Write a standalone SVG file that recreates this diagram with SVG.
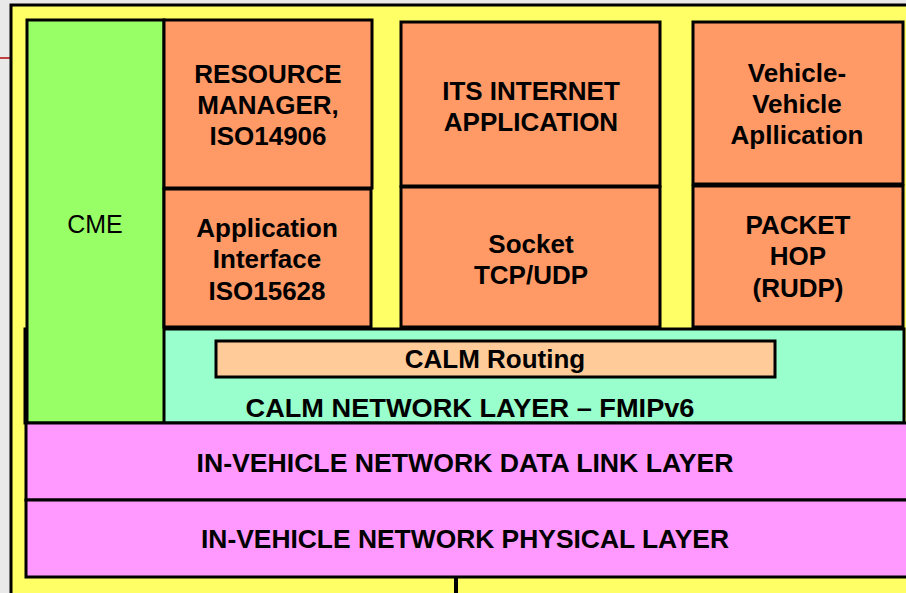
<svg xmlns="http://www.w3.org/2000/svg" width="906" height="593" viewBox="0 0 906 593">
<style>
.b{stroke:#000;stroke-width:3}
.o{fill:#ff9966}
.t{font-family:"Liberation Sans",Arial,sans-serif;font-weight:bold;font-size:26px;text-anchor:middle;fill:#000}
.n{font-family:"Liberation Sans",Arial,sans-serif;font-size:25px;text-anchor:middle;fill:#000}
</style>
<rect x="0" y="0" width="906" height="593" fill="#e9e9ea"/>
<line x1="0" y1="58" x2="12" y2="58" stroke="#c04040" stroke-width="2"/>
<g id="outer"><rect x="11" y="5" width="900" height="595" fill="#ffff66" class="b"/></g>
<g id="network"><rect x="25" y="329" width="879" height="94" fill="#99ffcc" class="b"/>
<text class="t" x="470" y="417" textLength="449" lengthAdjust="spacingAndGlyphs">CALM NETWORK LAYER – FMIPv6</text></g>
<g id="cme"><rect x="27" y="20" width="137" height="403" fill="#99ff66" class="b"/>
<text class="n" x="95" y="233">CME</text></g>
<g id="resource"><rect x="164" y="20" width="208" height="168" class="o b"/>
<text class="t"><tspan x="268" y="83">RESOURCE</tspan><tspan x="268" y="114">MANAGER,</tspan><tspan x="268" y="145">ISO14906</tspan></text></g>
<g id="appif"><rect x="164" y="189" width="207" height="138" class="o b"/>
<text class="t"><tspan x="267" y="237">Application</tspan><tspan x="267" y="268">Interface</tspan><tspan x="267" y="300">ISO15628</tspan></text></g>
<g id="its"><rect x="401" y="22" width="259" height="164" class="o b"/>
<text class="t"><tspan x="531" y="100">ITS INTERNET</tspan><tspan x="531" y="131">APPLICATION</tspan></text></g>
<g id="socket"><rect x="401" y="187" width="259" height="140" class="o b"/>
<text class="t"><tspan x="531" y="253">Socket</tspan><tspan x="531" y="284">TCP/UDP</tspan></text></g>
<g id="v2v"><rect x="693" y="22" width="210" height="162" class="o b"/>
<text class="t"><tspan x="797" y="82">Vehicle-</tspan><tspan x="797" y="113">Vehicle</tspan><tspan x="797" y="144">Apllication</tspan></text></g>
<g id="packethop"><rect x="693" y="186" width="210" height="141" class="o b"/>
<text class="t"><tspan x="798" y="234">PACKET</tspan><tspan x="798" y="265">HOP</tspan><tspan x="798" y="297">(RUDP)</tspan></text></g>
<g id="routing"><rect x="216" y="341" width="559" height="36" fill="#ffcc99" class="b"/>
<text class="t" x="495" y="368">CALM Routing</text></g>
<g id="datalink"><rect x="26" y="423" width="882" height="77" fill="#ff99ff" class="b"/>
<text class="t" x="465" y="472" textLength="537" lengthAdjust="spacingAndGlyphs">IN-VEHICLE NETWORK DATA LINK LAYER</text></g>
<g id="physical"><rect x="26" y="500" width="882" height="77" fill="#ff99ff" class="b"/>
<text class="t" x="465" y="548" textLength="528" lengthAdjust="spacingAndGlyphs">IN-VEHICLE NETWORK PHYSICAL LAYER</text></g>
<g id="connectors"><line x1="456" y1="578" x2="456" y2="593" stroke="#000" stroke-width="4"/></g>
</svg>
